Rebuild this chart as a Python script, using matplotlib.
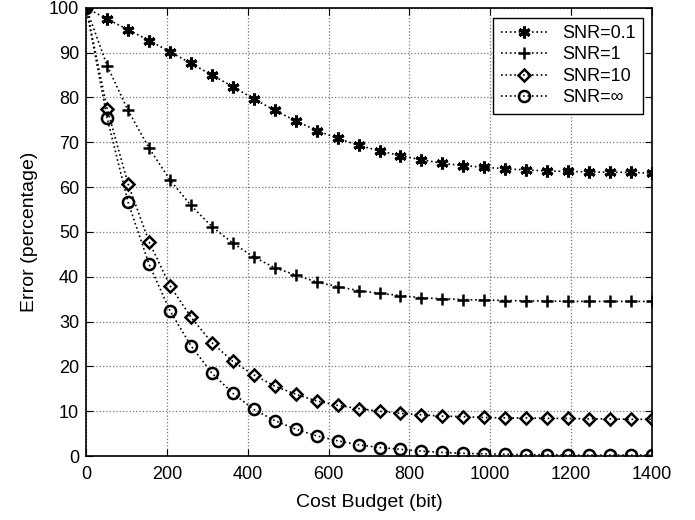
import numpy as np
import matplotlib
matplotlib.use("Agg")
import matplotlib.pyplot as plt

plt.rcParams['font.family'] = ['Liberation Sans', 'DejaVu Sans']

# cost budget values (28 points, 0..1400)
budget = np.linspace(0, 1400, 28)

err_snr01 = [100, 97.5, 95.1, 92.7, 90.2, 87.6, 85.0, 82.4, 79.7, 77.1,
             74.8, 72.6, 70.9, 69.3, 68.1, 67.0, 66.1, 65.3, 64.8, 64.4,
             64.1, 63.8, 63.6, 63.5, 63.4, 63.3, 63.3, 63.1]
err_snr1 = [100, 87.1, 77.1, 68.7, 61.6, 55.9, 51.2, 47.5, 44.4, 42.0,
            40.4, 38.8, 37.8, 36.9, 36.3, 35.8, 35.3, 35.1, 34.9, 34.8,
            34.7, 34.6, 34.6, 34.5, 34.5, 34.5, 34.5, 34.5]
err_snr10 = [100, 77.5, 60.7, 47.8, 38.0, 31.0, 25.3, 21.1, 18.1, 15.6,
             13.8, 12.3, 11.3, 10.6, 10.0, 9.5, 9.2, 8.9, 8.8, 8.6,
             8.5, 8.5, 8.4, 8.4, 8.3, 8.3, 8.2, 8.2]
err_snrinf = [100, 75.4, 56.6, 42.8, 32.4, 24.6, 18.5, 14.0, 10.4, 7.9,
              6.0, 4.5, 3.4, 2.5, 1.9, 1.5, 1.1, 0.8, 0.6, 0.5,
              0.4, 0.3, 0.3, 0.2, 0.2, 0.2, 0.2, 0.2]

labels = ['SNR=0.1', 'SNR=1', 'SNR=10', 'SNR=\u221e']

fig = plt.figure(figsize=(6.95, 5.2), dpi=100)
ax = fig.add_axes([0.124, 0.123, 0.814, 0.862])

# MATLAB style markers
ax.plot(budget, err_snr01, ls=':', color='k', lw=1.2, marker=(6, 2, 0),
        ms=8.5, mew=2.2, label=labels[0])
ax.plot(budget, err_snr1, ls=':', color='k', lw=1.2, marker='+',
        ms=9, mew=1.8, label=labels[1])
ax.plot(budget, err_snr10, ls=':', color='k', lw=1.2, marker='D',
        ms=6.5, mew=1.8, mfc='none', label=labels[2])
ax.plot(budget, err_snrinf, ls=':', color='k', lw=1.2, marker='o',
        ms=8, mew=1.8, mfc='none', label=labels[3])

ax.set_xlim(0, 1400)
ax.set_ylim(0, 100)
ax.set_xticks(np.arange(0, 1401, 200))
ax.set_yticks(np.arange(0, 101, 10))
ax.tick_params(direction='in', top=True, right=True, labelsize=13, length=5)
ax.tick_params(axis='x', pad=7)
ax.tick_params(axis='y', pad=5)
ax.grid(True, ls=':', color='#777777', lw=0.9)
for s in ax.spines.values():
    s.set_linewidth(1.2)

ax.set_xlabel('Cost Budget (bit)', fontsize=14, labelpad=8)
ax.set_ylabel('Error (percentage)', fontsize=14, labelpad=8)

leg = ax.legend(loc='upper right', bbox_to_anchor=(0.984, 0.978), fontsize=13,
                fancybox=False, framealpha=1, edgecolor='k', borderaxespad=0,
                handlelength=2.6, labelspacing=0.25, borderpad=0.4)
leg.get_frame().set_linewidth(1.0)

fig.savefig('out.png')
